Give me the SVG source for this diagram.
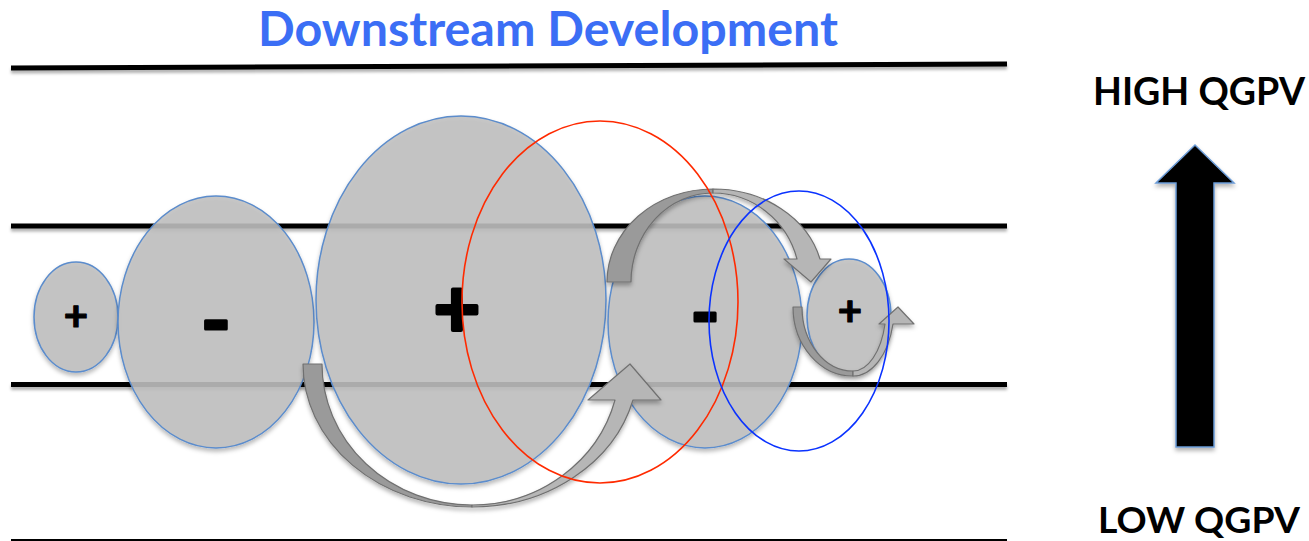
<svg xmlns="http://www.w3.org/2000/svg" width="1309" height="541" viewBox="0 0 1309 541">
<defs>
<filter id="sh" x="-10%" y="-10%" width="120%" height="130%">
<feDropShadow dx="0" dy="3" stdDeviation="2" flood-color="#000" flood-opacity="0.3"/>
</filter>
<filter id="shl" x="-5%" y="-200%" width="110%" height="500%">
<feDropShadow dx="0" dy="3" stdDeviation="1.5" flood-color="#000" flood-opacity="0.3"/>
</filter>
</defs>
<style>
.band{stroke:#000;stroke-width:5;fill:none}
.blob{fill:#c0c0c0;fill-opacity:0.87;stroke:#5b8ccc;stroke-width:1.5}
.sign{font-family:Lato,"Open Sans",sans-serif;font-weight:bold;fill:#000;stroke:#000;stroke-linejoin:round;text-anchor:middle}
.lbl{font-family:Lato,"Open Sans",sans-serif;font-weight:bold;text-anchor:middle}
.dark{fill:#9a9a9a;stroke:#707070;stroke-width:1.2;stroke-linejoin:round}
.light{fill:#b6b6b6;stroke:#707070;stroke-width:1.2;stroke-linejoin:round}
</style>
<rect width="1309" height="541" fill="#fff"/>

<g id="title"><text class="lbl" x="548" y="46" font-size="47" fill="#3b6ef5" textLength="580" lengthAdjust="spacingAndGlyphs">Downstream Development</text></g>

<g id="lines" filter="url(#shl)">
<line class="band" x1="11" y1="68" x2="1007" y2="64"/>
<line class="band" x1="11" y1="226" x2="1007" y2="226"/>
<line class="band" x1="11" y1="384.5" x2="1007" y2="384.5"/>
<line x1="11" y1="540" x2="1007" y2="540" stroke="#000" stroke-width="2"/>
</g>

<g id="node-plus1"><ellipse class="blob" cx="76" cy="317" rx="42" ry="55" filter="url(#sh)"/><text class="sign" x="76" y="331" font-size="42" stroke-width="1.2">+</text></g>
<g id="node-minus1"><ellipse class="blob" cx="216" cy="322" rx="98" ry="126" filter="url(#sh)"/><text class="sign" x="216" y="349" font-size="80" stroke-width="3">-</text></g>
<g id="node-plus2"><ellipse class="blob" cx="461" cy="300" rx="145" ry="184" filter="url(#sh)"/><text class="sign" x="457" y="337" font-size="80" stroke-width="4">+</text></g>
<g id="node-minus2"><ellipse class="blob" cx="705" cy="322" rx="97" ry="126" filter="url(#sh)"/><text class="sign" x="705" y="341" font-size="78" stroke-width="3">-</text></g>
<g id="node-plus3"><ellipse class="blob" cx="849" cy="316" rx="42" ry="57" filter="url(#sh)"/><text class="sign" x="850" y="326" font-size="42" stroke-width="1.2">+</text></g>

<g id="connectors" filter="url(#sh)">
<g id="arrow-a">
<path class="dark" d="M303,364 L322,364 A150,141 0 0 0 472,505 L472,507 A169,143 0 0 1 303,364 Z"/>
<path class="light" d="M472,507 A166,143 0 0 0 633,400 L661,400 L630,364 L588,400 L615,400 A148,141 0 0 1 472,505 Z"/>
</g>
<g id="arrow-b">
<path class="dark" d="M607,282 L631,282 A82,89 0 0 1 713,193 L713,189 A106,93 0 0 0 607,282 Z"/>
<path class="light" d="M713,189 A110,93 0 0 1 820,259 L831,259 L811,282 L784,259 L797,259 A87,89 0 0 0 713,193 Z"/>
</g>
<g id="arrow-c">
<path class="dark" d="M793,307 L802,307 A51,64 0 0 0 853,371 L853,376 A60,69 0 0 1 793,307 Z"/>
<path class="light" d="M853,376 A41,69 0 0 0 893,324 L914,324 L898,307 L879,324 L885,324 A33,64 0 0 1 853,371 Z"/>
</g>
</g>

<g id="outline-red"><ellipse cx="600" cy="302" rx="138" ry="181" fill="none" stroke="#ff2a00" stroke-width="1.6"/></g>
<g id="outline-blue"><ellipse cx="799" cy="321" rx="90" ry="130" fill="none" stroke="#0a32ff" stroke-width="1.6"/></g>

<g id="qgpv-arrow"><path d="M1176,447 L1176,183 L1156,183 L1195,145 L1234,183 L1214,183 L1214,447 Z" fill="#000" stroke="#6b9bd6" stroke-width="1.5" filter="url(#sh)"/></g>
<g id="label-high"><text class="lbl" x="1199" y="105" font-size="38" fill="#000" textLength="212" lengthAdjust="spacingAndGlyphs">HIGH QGPV</text></g>
<g id="label-low"><text class="lbl" x="1199" y="533" font-size="36" fill="#000" textLength="202" lengthAdjust="spacingAndGlyphs">LOW QGPV</text></g>
</svg>
